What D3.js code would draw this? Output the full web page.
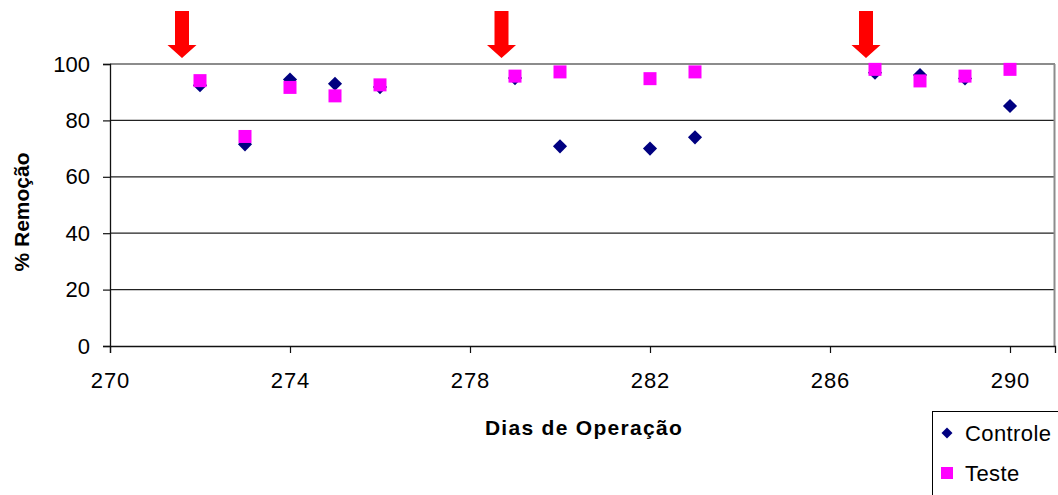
<!DOCTYPE html>
<html><head><meta charset="utf-8">
<script src="https://cdn.jsdelivr.net/npm/d3@7"></script>
<style>body{margin:0;background:#fff}svg{display:block;font-family:"Liberation Sans",Arial,sans-serif}</style>
</head><body><svg id="c" width="1058" height="495"></svg>
<script>
const days = [272,273,274,275,276,279,280,282,283,287,288,289,290];
const controle = [92.5,71.5,94.5,93,91.8,95,70.8,70,74,96.9,96.1,94.9,85.1];
const teste = [94.1,74.3,91.7,88.7,92.6,95.7,97.2,94.8,97.2,98.1,94,95.7,98.1];
const arrowDays = [271.6,278.7,286.8];
const xTicks = [270,274,278,282,286,290];
const yTicks = [0,20,40,60,80,100];
const seriesNames = ["Controle","Teste"];

const svg = d3.select("#c");
const x = d3.scaleLinear().domain([270,291]).range([110,1055]);
const y = d3.scaleLinear().domain([0,100]).range([346,64]);
const FS = 22;

svg.append("g").selectAll("line").data(yTicks.filter(d=>d>0&&d<100)).join("line")
  .attr("x1",110).attr("x2",1055).attr("y1",d=>y(d)).attr("y2",d=>y(d))
  .attr("stroke","#222").attr("stroke-width",1.2);
svg.append("line").attr("x1",110).attr("x2",1055).attr("y1",y(100)).attr("y2",y(100)).attr("stroke","#8c8c8c").attr("stroke-width",2);
svg.append("line").attr("x1",1054.5).attr("x2",1054.5).attr("y1",y(100)).attr("y2",y(0)).attr("stroke","#8c8c8c").attr("stroke-width",2);

const xAxis = svg.append("g").attr("transform",`translate(0,${y(0)})`)
  .call(d3.axisBottom(x).tickValues(xTicks).tickSize(7).tickPadding(19).tickFormat(d3.format("d")));
const yAxis = svg.append("g").attr("transform",`translate(${x(270)},0)`)
  .call(d3.axisLeft(y).tickValues(yTicks).tickSize(7).tickPadding(13));
[xAxis,yAxis].forEach(a=>{
  a.attr("font-size",FS).attr("font-family","Liberation Sans, Arial, sans-serif");
  a.select(".domain").attr("stroke","#111").attr("stroke-width",1.3);
  a.selectAll(".tick line").attr("stroke","#111").attr("stroke-width",1.2);
  a.selectAll("text").attr("fill","#000");
});
xAxis.selectAll("text").attr("letter-spacing",1);

svg.append("text").attr("x",584).attr("y",435).attr("text-anchor","middle")
  .attr("font-size",21).attr("font-weight","bold").attr("letter-spacing",1.3).text("Dias de Operação");
svg.append("text").attr("transform","translate(29,212) rotate(-90)").attr("text-anchor","middle")
  .attr("font-size",21).attr("font-weight","bold").text("% Remoção");

const diamond = d3.symbol().type(d3.symbolSquare).size(100)();
svg.append("g").selectAll("path").data(days.map((d,i)=>[d,controle[i]])).join("path")
  .attr("d",diamond).attr("fill","#000080")
  .attr("transform",d=>`translate(${x(d[0])},${y(d[1])}) rotate(45)`);
svg.append("g").selectAll("rect").data(days.map((d,i)=>[d,teste[i]])).join("rect")
  .attr("x",d=>x(d[0])-6.5).attr("y",d=>y(d[1])-6.5).attr("width",13).attr("height",13)
  .attr("fill","#ff00ff");

const arrowPath = d=>{
  const cx = x(d);
  return `M${cx-7},11 L${cx+7},11 L${cx+7},45 L${cx+14.5},45 L${cx},58 L${cx-14.5},45 L${cx-7},45 Z`;
};
svg.append("g").selectAll("path").data(arrowDays).join("path").attr("d",arrowPath).attr("fill","#ff0000");

const lg = svg.append("g");
lg.append("rect").attr("x",932.5).attr("y",411.5).attr("width",140).attr("height",100)
  .attr("fill","#fff").attr("stroke","#000").attr("stroke-width",1);
lg.append("path").attr("d",d3.symbol().type(d3.symbolSquare).size(60)())
  .attr("transform","translate(947,433) rotate(45)").attr("fill","#000080");
lg.append("rect").attr("x",941).attr("y",467).attr("width",12).attr("height",12).attr("fill","#ff00ff");
lg.selectAll("text").data(seriesNames).join("text")
  .attr("x",965).attr("y",(d,i)=>i===0?441:481).attr("font-size",FS).attr("letter-spacing",0.4).text(d=>d);
</script></body></html>
